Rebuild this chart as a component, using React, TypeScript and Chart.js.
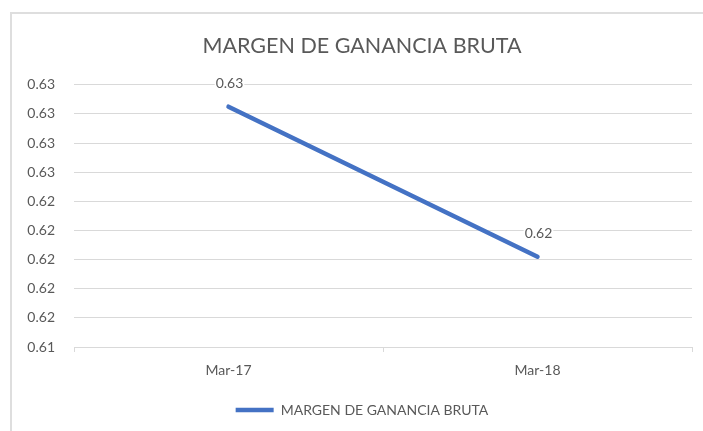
import React, { useEffect, useRef } from "react";
import { Chart, registerables } from "chart.js";

Chart.register(...registerables);

const chartTitle = "MARGEN DE GANANCIA BRUTA";
const seriesName = "MARGEN DE GANANCIA BRUTA";
const categories = ["Mar-17", "Mar-18"];
const margenValues = [0.6305, 0.6202];
const yTickMin = 0.614;
const yTickMax = 0.632;
const yTickStep = 0.002;

const FONT = "Lato, 'Open Sans', sans-serif";
const TEXT = "#595959";
const GRID = "#d9d9d9";

const dataLabelPlugin = {
  id: "dataLabels",
  afterDatasetsDraw(chart: any) {
    const ctx = chart.ctx;
    chart.data.datasets.forEach((ds: any, di: number) => {
      const meta = chart.getDatasetMeta(di);
      meta.data.forEach((pt: any, i: number) => {
        const v = Number(ds.data[i]);
        const text = v.toFixed(2);
        ctx.save();
        ctx.font = `14px ${FONT}`;
        const w = ctx.measureText(text).width;
        const cx = pt.x + 1;
        const cy = pt.y - 23;
        ctx.fillStyle = "#ffffff";
        ctx.fillRect(cx - w / 2 - 1, cy - 8, w + 2, 16);
        ctx.fillStyle = TEXT;
        ctx.textAlign = "center";
        ctx.textBaseline = "middle";
        ctx.fillText(text, cx, cy);
        ctx.restore();
      });
    });
  },
};

export default function App() {
  const ref = useRef<HTMLCanvasElement | null>(null);

  useEffect(() => {
    if (!ref.current) return;
    const chart = new Chart(ref.current, {
      type: "line",
      data: {
        labels: categories,
        datasets: [
          {
            label: seriesName,
            data: margenValues,
            borderColor: "#4472C4",
            backgroundColor: "#4472C4",
            borderWidth: 4.5,
            borderCapStyle: "round",
            pointRadius: 0,
            pointHoverRadius: 0,
            fill: false,
            tension: 0,
          },
        ],
      },
      options: {
        responsive: false,
        animation: false,
        devicePixelRatio: 1,
        layout: { padding: { top: 0, left: 32, right: 11, bottom: 4 } },
        plugins: {
          title: {
            display: true,
            text: chartTitle,
            color: TEXT,
            font: { family: FONT, size: 21.5, weight: "normal", lineHeight: 1.2 },
            padding: { top: 33, bottom: 26 },
          },
          legend: {
            position: "bottom",
            labels: {
              usePointStyle: true,
              pointStyle: "line",
              pointStyleWidth: 38,
              color: TEXT,
              font: { family: FONT, size: 14 },
              padding: 10,
            },
          },
          tooltip: { enabled: false },
        },
        scales: {
          x: {
            offset: true,
            grid: {
              display: true,
              drawOnChartArea: false,
              drawTicks: true,
              tickLength: 5,
              color: GRID,
              offset: true,
            },
            border: { display: true, color: GRID, width: 1 },
            ticks: { color: TEXT, font: { family: FONT, size: 14 }, padding: 10 },
            afterFit: (s: any) => {
              s.height = 46;
            },
          },
          y: {
            min: yTickMin,
            max: yTickMax,
            ticks: {
              stepSize: yTickStep,
              color: TEXT,
              font: { family: FONT, size: 14 },
              padding: 19,
              callback: (v: any) => Number(v).toFixed(2),
            },
            grid: { color: GRID, drawTicks: false },
            border: { display: false },
            afterFit: (s: any) => {
              s.width = 42;
              s._computeLabelArea = () => undefined;
            },
          },
        },
      },
      plugins: [dataLabelPlugin],
    } as any);
    return () => chart.destroy();
  }, []);

  return (
    <div
      style={{
        position: "absolute",
        left: 0,
        top: 0,
        width: 703,
        height: 431,
        background: "#ffffff",
        overflow: "hidden",
      }}
    >
      <div
        style={{
          position: "absolute",
          left: 10,
          top: 12,
          right: 0,
          bottom: 0,
          borderTop: "2px solid #dedede",
          borderLeft: "2px solid #dedede",
        }}
      />
      <canvas
        ref={ref}
        width={703}
        height={431}
        style={{ position: "absolute", left: 0, top: 0, width: 703, height: 431 }}
      />
    </div>
  );
}
